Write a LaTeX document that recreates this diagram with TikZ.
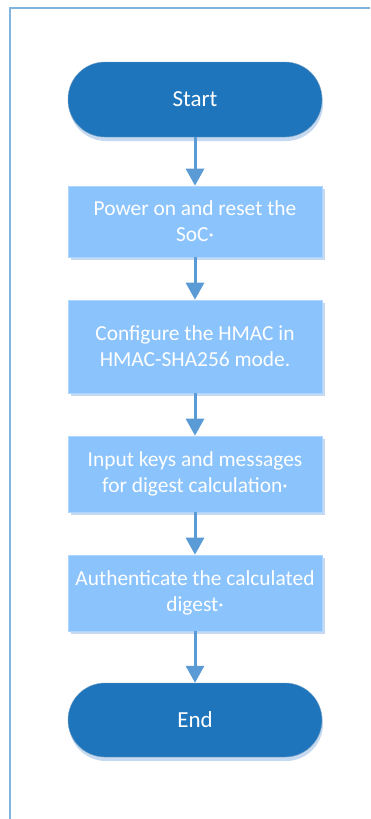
\documentclass[tikz,border=0pt]{standalone}
\usepackage{fontspec}
\setmainfont{Carlito}
\usetikzlibrary{arrows.meta,shadows}
\definecolor{termblue}{RGB}{31,117,188}
\definecolor{boxblue}{RGB}{139,195,252}
\definecolor{arrowblue}{RGB}{91,155,213}
\definecolor{frameblue}{RGB}{127,181,223}
\definecolor{shadowblue}{RGB}{197,217,240}
\tikzset{
  term/.style={rectangle, rounded corners=37pt, fill=termblue, draw=termblue!80!black!60,
    line width=0.4pt, minimum width=254pt, minimum height=75pt, text=white,
    font=\fontsize{23}{27}\selectfont,
    drop shadow={shadow xshift=1pt, shadow yshift=-4pt, fill=shadowblue, opacity=1}},
  proc/.style={rectangle, fill=boxblue, draw=boxblue!70!white, line width=0.6pt,
    minimum width=254pt, text=white, align=center, inner sep=0pt,
    font=\fontsize{21.4}{26}\selectfont,
    drop shadow={shadow xshift=3pt, shadow yshift=-3pt, fill=shadowblue, opacity=1}},
  flow/.style={draw=arrowblue, line width=3pt, -{Triangle[width=18pt,length=17pt]}}
}
\begin{document}
\begin{tikzpicture}[x=1pt,y=-1pt]
\useasboundingbox (0,0) rectangle (370,819);
\draw[frameblue, line width=2pt] (10,819) -- (10,8) -- (370,8);
\node[term] (start) at (195,99.5) {Start};
\node[proc, minimum height=71pt] (p1) at (195,221.5) {Power on and reset the\\SoC·};
\node[proc, minimum height=93pt] (p2) at (195,346.5) {Configure the HMAC in\\HMAC-SHA256 mode.};
\node[proc, minimum height=76pt] (p3) at (195,474) {Input keys and messages\\for digest calculation·};
\node[proc, minimum height=76pt] (p4) at (195,593) {Authenticate the calculated\\digest·};
\node[term, minimum height=74pt] (end) at (195,720) {End};
\draw[flow] (start) -- (p1);
\draw[flow] (p1) -- (p2);
\draw[flow] (p2) -- (p3);
\draw[flow] (p3) -- (p4);
\draw[flow] (p4) -- (end);
\end{tikzpicture}
\end{document}
